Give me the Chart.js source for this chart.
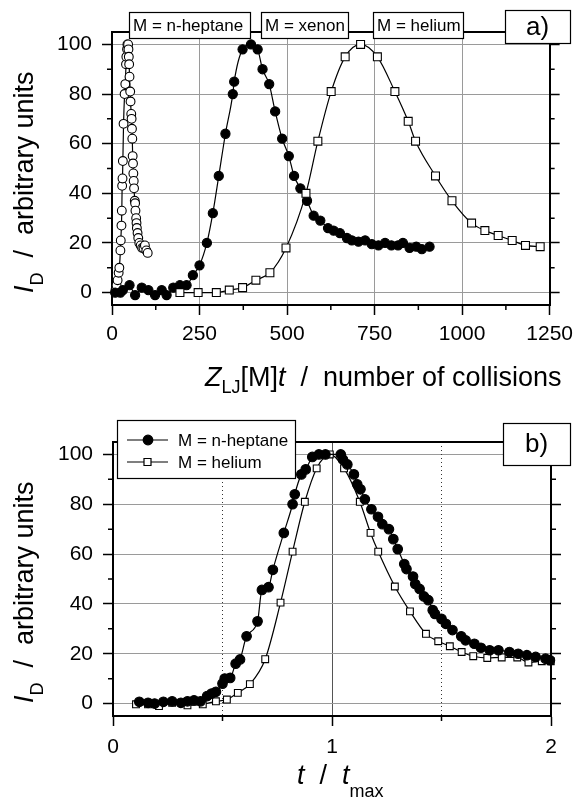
<!DOCTYPE html>
<html>
<head>
<meta charset="utf-8">
<script src="https://cdn.jsdelivr.net/npm/chart.js@4.4.1/dist/chart.umd.min.js"></script>
<style>
  html, body { margin: 0; padding: 0; background: #fff; }
  #wrap { position: relative; width: 580px; height: 799px; }
  #wrap canvas { position: absolute; left: 0; }
  #ca { top: 0; }
  #cb { top: 400px; }
</style>
</head>
<body>
<div id="wrap">
  <canvas id="ca" width="580" height="400"></canvas>
  <canvas id="cb" width="580" height="399"></canvas>
</div>
<script>
// axis ticks
const yTicks = [0, 20, 40, 60, 80, 100];
const yMinor = [10, 30, 50, 70, 90];
const xTicksA = [0, 250, 500, 750, 1000, 1250];
const xMinorA = [125, 375, 625, 875, 1125];
const xTicksB = [0, 1, 2];
const xMinorB = [0.5, 1.5];

// a) intensity vs number of collisions
const heptaneA_x = [10, 13, 16, 19, 21, 24, 25, 27, 28, 29, 30, 31, 33, 36, 38, 40, 41, 43, 44,
  46, 47, 48, 49, 50, 52, 53, 55, 56, 57, 58, 59, 60, 61, 62, 63, 65, 66, 67, 69, 70, 71, 73, 75, 78, 82, 86, 90, 94, 98, 102];
const heptaneA_y = [1, 3, 5, 8, 10, 17, 21, 27, 33, 43, 46, 53, 68, 80, 84, 92, 95, 98, 100,
  100, 98, 95, 92, 87, 81, 77, 72, 70, 66, 62, 55, 52, 48, 45, 42, 37, 36, 33, 30, 28, 26, 24, 22, 20, 19, 18, 18, 19, 17, 16];

const xenonA_x = [9, 24, 31, 50, 66, 85, 104, 123, 142, 156, 175, 194, 213, 231, 250, 271, 288, 305, 324, 345, 349,
  373, 397, 416, 430, 449, 466, 486, 505, 520, 538, 557, 576, 595, 617, 633, 651, 671, 685, 704, 723, 742, 761,
  780, 798, 817, 831, 850, 869, 885, 907];
const xenonA_y = [0, 0, 1, 3, -1, 2, 1, -1, 1, -1, 2, 3, 3, 7, 11, 20, 32, 47, 64, 80, 85,
  98, 100, 98, 90, 84, 73, 62, 55, 47, 42, 37, 31, 29, 26, 25, 24, 22, 21, 20.5, 21, 19.5, 19,
  20, 19, 19, 20, 18, 18.5, 17.5, 18.5];

const heliumA_x = [194, 246, 298, 335, 373, 411, 451, 497, 554, 588, 626, 666, 710, 758, 808, 846, 867,
  924, 971, 1027, 1065, 1103, 1143, 1181, 1223];
const heliumA_y = [0, 0, 0, 1, 2, 5, 8, 18, 40, 61, 81, 95, 100, 95, 81, 69, 61,
  47, 37, 28, 25, 23, 21, 19, 18.5];

// b) intensity vs t / tmax
const heptaneB_x = [0.12, 0.16, 0.19, 0.23, 0.27, 0.31, 0.34, 0.37, 0.40, 0.43, 0.45, 0.47, 0.50, 0.51, 0.535,
  0.56, 0.58, 0.61, 0.66, 0.68, 0.71, 0.73, 0.78, 0.82, 0.83, 0.86, 0.88, 0.91, 0.94, 0.97, 1.04, 1.05, 1.07,
  1.10, 1.115, 1.13, 1.15, 1.18, 1.21, 1.23, 1.26, 1.28, 1.30, 1.33, 1.34, 1.37, 1.38, 1.40, 1.42, 1.44, 1.46,
  1.47, 1.50, 1.52, 1.55, 1.59, 1.61, 1.65, 1.68, 1.72, 1.76, 1.81, 1.85, 1.89, 1.93, 1.975, 1.995];
const heptaneB_y = [0.7, 0.3, 0, 0.7, 0.9, 0.3, 0.9, 1.3, 0.9, 3, 4, 4.7, 8, 10, 10.3,
  16, 17.7, 27, 33, 45.6, 46.7, 53.7, 68.5, 80, 84, 92, 94, 99, 100, 100, 100, 98, 96,
  92, 88, 86, 82, 78, 75, 72, 70, 66, 62, 56, 54, 51, 48, 46, 43, 41.5, 37.5,
  36, 34, 32, 29.5, 27, 25.4, 24, 22.4, 21.4, 21.4, 20.7, 20, 19.4, 18.7, 18, 17.4];

const heliumB_x = [0.105, 0.16, 0.21, 0.27, 0.34, 0.41, 0.47, 0.52, 0.57, 0.625, 0.695, 0.765, 0.82, 0.876,
  0.93, 0.99, 1.055, 1.127, 1.176, 1.211, 1.287, 1.356, 1.429, 1.485, 1.538, 1.592, 1.645, 1.709, 1.775,
  1.846, 1.897, 1.958, 1.999];
const heliumB_y = [-0.3, -0.3, -1, 0.3, -0.7, -0.3, 0.9, 1.6, 4.3, 7.8, 17.8, 40.5, 61, 81,
  94.4, 100, 94.4, 81, 68.5, 61, 47, 37, 28, 25, 23, 20.7, 19, 18.3, 18.5,
  18.5, 16.5, 17, 17];

const FONT = '"Liberation Sans", Arial, Helvetica, sans-serif';
Chart.defaults.font.family = FONT;
Chart.defaults.color = '#000';

const pts = (xs, ys) => xs.map((x, i) => ({ x, y: ys[i] }));

function series(data, style, r, filled) {
  return {
    data, showLine: true, pointStyle: style, pointRadius: r, pointHoverRadius: r,
    pointBorderWidth: 1.1, pointBorderColor: '#000', pointBackgroundColor: filled ? '#000' : '#fff',
    borderColor: '#000', borderWidth: 1.2, cubicInterpolationMode: 'monotone', clip: 6
  };
}

// text made of runs: {t, f, dy}
function runs(ctx, x, y, parts) {
  for (const p of parts) {
    ctx.font = p.f + ' ' + FONT;
    ctx.fillText(p.t, x, y + (p.dy || 0));
    x += ctx.measureText(p.t).width;
  }
}

const deco = {
  id: 'deco',
  afterDraw(chart, args, o) {
    const ctx = chart.ctx, a = chart.chartArea;
    ctx.save();
    ctx.strokeStyle = '#000';
    ctx.fillStyle = '#000';
    // top frame
    ctx.lineWidth = 2;
    ctx.beginPath(); ctx.moveTo(a.left - 1, a.top); ctx.lineTo(a.right + 1, a.top); ctx.stroke();
    // minor ticks
    ctx.lineWidth = 1.5;
    const xs = chart.scales.x, ys = chart.scales.y;
    ctx.beginPath();
    for (const v of o.xMinor) {
      const px = xs.getPixelForValue(v);
      ctx.moveTo(px, a.bottom); ctx.lineTo(px, a.bottom + 5);
    }
    for (const v of yMinor) {
      const py = ys.getPixelForValue(v);
      ctx.moveTo(a.left, py); ctx.lineTo(a.left - 5, py);
      ctx.moveTo(a.right, py); ctx.lineTo(a.right + 5, py);
    }
    ctx.stroke();
    // boxed labels
    ctx.textBaseline = 'middle';
    for (const b of o.boxes) {
      ctx.fillStyle = '#fff';
      ctx.fillRect(b.x, b.y, b.w, b.h);
      ctx.lineWidth = 1.2;
      ctx.strokeRect(b.x + 0.5, b.y + 0.5, b.w, b.h);
      ctx.fillStyle = '#000';
      ctx.font = b.f + ' ' + FONT;
      ctx.textAlign = b.center ? 'center' : 'left';
      ctx.fillText(b.t, b.center ? b.x + b.w / 2 : b.x + 4, b.y + b.h / 2 + 1);
    }
    ctx.textAlign = 'left';
    // legend
    if (o.legend) {
      const L = o.legend;
      ctx.fillStyle = '#fff';
      ctx.fillRect(L.x, L.y, L.w, L.h);
      ctx.lineWidth = 1.2;
      ctx.strokeRect(L.x + 0.5, L.y + 0.5, L.w, L.h);
      L.items.forEach((it, i) => {
        const yy = L.y + 20 + i * 22;
        ctx.lineWidth = 1.2;
        ctx.beginPath(); ctx.moveTo(L.x + 10, yy); ctx.lineTo(L.x + 51, yy); ctx.stroke();
        ctx.beginPath();
        if (it.square) ctx.rect(L.x + 27, yy - 3.5, 7, 7);
        else ctx.arc(L.x + 31, yy, 4.8, 0, Math.PI * 2);
        ctx.fillStyle = it.square ? '#fff' : '#000';
        ctx.fill(); ctx.stroke();
        ctx.fillStyle = '#000';
        ctx.font = '17px ' + FONT;
        ctx.fillText(it.t, L.x + 61, yy + 1);
      });
    }
    // axis titles
    ctx.textBaseline = 'alphabetic';
    runs(ctx, o.xTitle.x, o.xTitle.y, o.xTitle.parts);
    ctx.translate(33, o.yBase);
    ctx.rotate(-Math.PI / 2);
    runs(ctx, 0, 0, [
      { t: 'I', f: 'italic 27px' }, { t: 'D', f: '18px', dy: 10 },
      { t: '  /  arbitrary units', f: '27px' }
    ]);
    ctx.restore();
  }
};

function setTicks(list) {
  return s => { s.ticks = list.map(v => ({ value: v })); };
}

function makeChart(id, cfg) {
  const yAxis = {
    type: 'linear', min: -5, max: 105, position: 'left',
    afterBuildTicks: setTicks(yTicks), afterFit: s => { s.width = cfg.left; },
    ticks: { font: { size: 21 }, padding: 10, callback: v => String(v) },
    grid: { color: '#9a9a9a', lineWidth: 1, tickColor: '#000', tickLength: 10, tickWidth: 1.5 },
    border: { color: '#000', width: 2 }
  };
  const scales = {
    x: {
      type: 'linear', min: cfg.xMin, max: cfg.xMax, position: 'bottom',
      afterBuildTicks: setTicks(cfg.xTicks), afterFit: s => { s.height = cfg.bottom; },
      ticks: { font: { size: 21 }, padding: cfg.tickPad, maxRotation: 0, callback: v => String(v) },
      grid: { color: cfg.gridColor, lineWidth: 1, tickColor: '#000', tickLength: 10, tickWidth: 1.5 },
      border: { color: '#000', width: 2 }
    },
    y: yAxis,
    yR: {
      type: 'linear', min: -5, max: 105, position: 'right',
      afterBuildTicks: setTicks(yTicks), afterFit: s => { s.width = cfg.right; },
      ticks: { display: false },
      grid: { drawOnChartArea: false, tickColor: '#000', tickLength: 10, tickWidth: 1.5 },
      border: { color: '#000', width: 2 }
    }
  };
  if (cfg.dotted) {
    scales.xd = {
      type: 'linear', min: cfg.xMin, max: cfg.xMax, position: 'top',
      afterBuildTicks: setTicks(cfg.dotted), afterFit: s => { s.height = 0; },
      ticks: { display: false },
      grid: { color: '#333', lineWidth: 1, drawTicks: false },
      border: { display: false, dash: [1, 3] }
    };
  }
  return new Chart(document.getElementById(id), {
    type: 'scatter',
    data: { datasets: cfg.datasets },
    options: {
      responsive: false, animation: false,
      layout: { padding: { top: cfg.top, left: 0, right: 0, bottom: 0 } },
      plugins: { legend: { display: false }, tooltip: { enabled: false }, deco: cfg.deco },
      scales
    },
    plugins: [deco]
  });
}

makeChart('ca', {
  left: 112, right: 27, top: 32, bottom: 95, tickPad: 7,
  xMin: 0, xMax: 1250, xTicks: xTicksA, gridColor: '#9a9a9a',
  datasets: [
    series(pts(heliumA_x, heliumA_y), 'rect', 5.6, false),
    series(pts(xenonA_x, xenonA_y), 'circle', 4.6, true),
    series(pts(heptaneA_x, heptaneA_y), 'circle', 4.4, false)
  ],
  deco: {
    xMinor: xMinorA,
    boxes: [
      { x: 129, y: 12, w: 121, h: 26, t: 'M = n-heptane', f: '17px' },
      { x: 261, y: 12, w: 87, h: 26, t: 'M = xenon', f: '17px' },
      { x: 373, y: 12, w: 90, h: 26, t: 'M = helium', f: '17px' },
      { x: 505, y: 10, w: 65, h: 33, t: 'a)', f: '26px', center: true }
    ],
    xTitle: {
      x: 205, y: 386, parts: [
        { t: 'Z', f: 'italic 27px' }, { t: 'LJ', f: '18px', dy: 7 },
        { t: '[M]', f: '27px' }, { t: 't', f: 'italic 27px' },
        { t: '  /  number of collisions', f: '27px' }
      ]
    },
    yBase: 293
  }
});

makeChart('cb', {
  left: 113, right: 29, top: 42, bottom: 83, tickPad: 9,
  xMin: 0, xMax: 2, xTicks: xTicksB, dotted: xMinorB,
  gridColor: c => (c.tick && c.tick.value === 1 ? '#555' : '#9a9a9a'),
  datasets: [
    series(pts(heptaneB_x, heptaneB_y), 'circle', 4.8, true),
    series(pts(heliumB_x, heliumB_y), 'rect', 4.8, false)
  ],
  deco: {
    xMinor: xMinorB,
    boxes: [
      { x: 503, y: 23, w: 67, h: 42, t: 'b)', f: '26px', center: true }
    ],
    legend: {
      x: 117, y: 20, w: 178, h: 58,
      items: [{ t: 'M = n-heptane' }, { t: 'M = helium', square: true }]
    },
    xTitle: {
      x: 297, y: 384, parts: [
        { t: 't', f: 'italic 27px' }, { t: '  /  ', f: '27px' },
        { t: 't', f: 'italic 27px' }, { t: 'max', f: '18px', dy: 13 }
      ]
    },
    yBase: 303
  }
});
</script>
</body>
</html>
